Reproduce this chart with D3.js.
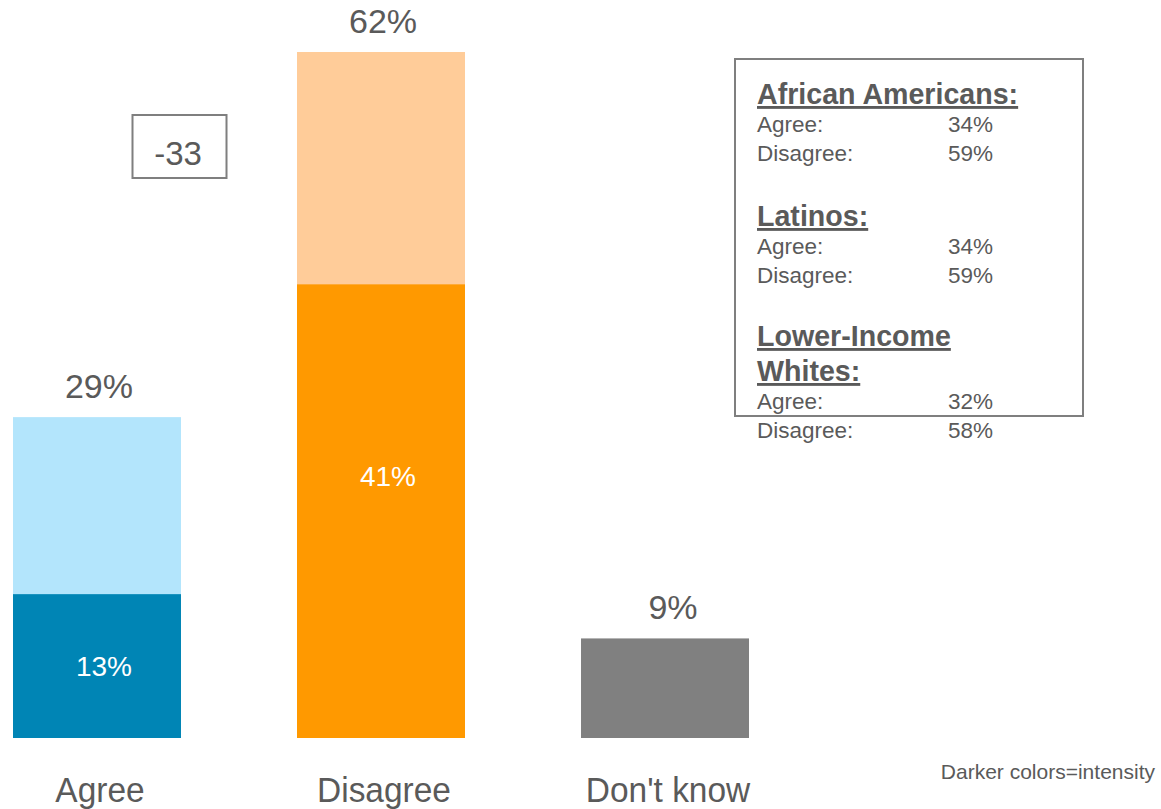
<!DOCTYPE html>
<html>
<head>
<meta charset="utf-8">
<script src="https://cdn.jsdelivr.net/npm/d3@7"></script>
<style>
  body { margin: 0; background: #fff; }
  svg { display: block; font-family: Arial, "Liberation Sans", sans-serif; }
</style>
</head>
<body>
<svg id="chart"></svg>
<script>
const categories = ["Agree", "Disagree", "Don't know"]
const totals = [29, 62, 9]
const strong = [13, 41, null]
const lightColors = ["#b3e5fc", "#ffcc99", "#808080"]
const darkColors = ["#0085b5", "#ff9900", "#808080"]

const groups = [["African Americans:"], ["Latinos:"], ["Lower-Income", "Whites:"]]
const groupAgree = [34, 34, 32]
const groupDisagree = [59, 59, 58]

const footnote = "Darker colors=intensity"

const w = 1161, h = 809
const textColor = "#5a5a5a"

const svg = d3.select("#chart")
    .attr("width", w)
    .attr("height", h)

const x = d3.scaleBand()
    .domain(categories)
    .range([13, 749])
    .paddingInner(0.4085)
    .paddingOuter(0)

const y = d3.scaleLinear()
    .domain([0, d3.max(totals)])
    .range([738, 52])

const data = categories.map((c, i) => ({
    cat: c, total: totals[i], strong: strong[i],
    light: lightColors[i], dark: darkColors[i]
}))

// total bars (light)
svg.selectAll("rect.total")
    .data(data)
    .join("rect")
    .attr("class", "total")
    .attr("x", d => x(d.cat))
    .attr("width", x.bandwidth())
    .attr("y", d => y(d.total))
    .attr("height", d => y(0) - y(d.total))
    .style("fill", d => d.light)

// intensity bars (dark)
const strongData = data.filter(d => d.strong != null)
svg.selectAll("rect.strong")
    .data(strongData)
    .join("rect")
    .attr("class", "strong")
    .attr("x", d => x(d.cat))
    .attr("width", x.bandwidth())
    .attr("y", d => y(d.strong))
    .attr("height", d => y(0) - y(d.strong))
    .style("fill", d => d.dark)

// value labels above bars
svg.selectAll("text.total")
    .data(data)
    .join("text")
    .attr("class", "total")
    .attr("x", d => x(d.cat) + x.bandwidth() / 2 + (d.total < 10 ? 8 : 2))
    .attr("y", d => y(d.total) - 19)
    .attr("text-anchor", "middle")
    .style("font-size", "34px")
    .style("fill", textColor)
    .text(d => d.total + "%")

// inner labels
svg.selectAll("text.strong")
    .data(strongData)
    .join("text")
    .attr("class", "strong")
    .attr("x", d => x(d.cat) + x.bandwidth() / 2 + 7)
    .attr("y", d => Math.min(y(d.strong / 2) + 10, y(d.strong) + 202))
    .attr("text-anchor", "middle")
    .style("font-size", "28px")
    .style("fill", "#fff")
    .text(d => d.strong + "%")

// category labels
svg.selectAll("text.cat")
    .data(data)
    .join("text")
    .attr("class", "cat")
    .attr("transform", d => `translate(${x(d.cat) + x.bandwidth() / 2 + 3}, 802) scale(0.93, 1)`)
    .attr("text-anchor", "middle")
    .style("font-size", "36px")
    .style("fill", textColor)
    .text(d => d.cat)

// net box
const net = totals[0] - totals[1]
svg.append("rect")
    .attr("x", 132.5).attr("y", 115)
    .attr("width", 94).attr("height", 63)
    .style("fill", "none")
    .style("stroke", "#7f7f7f")
    .style("stroke-width", 2)
svg.append("text")
    .attr("x", 178).attr("y", 165)
    .attr("text-anchor", "middle")
    .style("font-size", "33px")
    .style("fill", textColor)
    .text(net)

// subgroup box
svg.append("rect")
    .attr("x", 735).attr("y", 59)
    .attr("width", 348).attr("height", 357)
    .style("fill", "none")
    .style("stroke", "#7f7f7f")
    .style("stroke-width", 2)

const legend = svg.append("g").attr("transform", "translate(757, 0)")
const groupTop = [104, 226, 346]
groups.forEach((g, i) => {
    let yy = groupTop[i]
    g.forEach((line, j) => {
        legend.append("text")
            .attr("x", 0).attr("y", yy + j * 35)
            .style("font-size", "28.6px")
            .style("font-weight", "bold")
            .style("text-decoration", "underline")
            .style("fill", textColor)
            .text(line)
    })
    yy += (g.length - 1) * 35
    const rows = [["Agree:", groupAgree[i]], ["Disagree:", groupDisagree[i]]]
    rows.forEach((r, k) => {
        const ry = yy + 28 + k * 29
        legend.append("text")
            .attr("x", 0).attr("y", ry)
            .style("font-size", "22.5px")
            .style("fill", textColor)
            .text(r[0])
        legend.append("text")
            .attr("x", 191).attr("y", ry)
            .style("font-size", "22.5px")
            .style("fill", textColor)
            .text(r[1] + "%")
    })
})

svg.append("text")
    .attr("x", 1155).attr("y", 779)
    .attr("text-anchor", "end")
    .style("font-size", "21px")
    .style("fill", textColor)
    .text(footnote)
</script>
</body>
</html>
